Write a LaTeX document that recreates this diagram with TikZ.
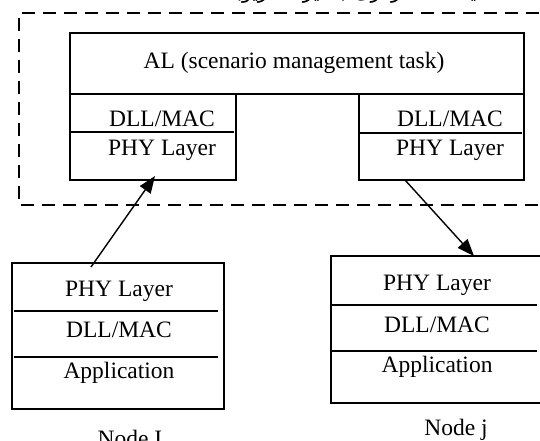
\documentclass[tikz,border=0pt]{standalone}
\usepackage{fontspec}
\setmainfont{Liberation Serif}
\newfontfamily\arabicfont[Script=Arabic]{DejaVu Sans}
\TeXXeTstate=1
\usetikzlibrary{arrows.meta}

\tikzset{
  layer/.style={draw, line width=1.4pt},
  lbl/.style={font=\fontsize{23.5}{28}\selectfont, inner sep=0pt, anchor=base},
  link/.style={line width=1.4pt, -{Triangle[length=17pt,width=13pt]}},
}

\begin{document}
\begin{tikzpicture}[x=1pt,y=-1pt]
  \useasboundingbox (0,0) rectangle (540,441);

  % frame of the scenario side
  \draw[line width=1.4pt, dash pattern=on 13pt off 8pt]
    (560,13) -- (19,13) -- (19,205) -- (560,205);
  \node[lbl, anchor=base east, font=\arabicfont\fontsize{20}{24}\selectfont] (title) at (482,-1)
    {\beginR ایستگاه مرکزی (مدیر سناریو)\endR};

  % AL box with two stacks
  \draw[layer] (70,33) rectangle (524,94);
  \node[lbl] (al) at (294,69) {AL (scenario management task)};

  \draw[layer] (70,94) rectangle (236,180);
  \draw[layer] (70,132) -- (234,132);
  \node[lbl] (macA) at (162,126) {DLL/MAC};
  \node[lbl] (phyA) at (162,155) {PHY Layer};

  \draw[layer] (359,94) rectangle (524,180);
  \draw[layer] (359,133) -- (522,133);
  \node[lbl] (macB) at (450,126) {DLL/MAC};
  \node[lbl] (phyB) at (450,155) {PHY Layer};

  % node I
  \draw[layer] (12,263) rectangle (224,409);
  \foreach \y in {311, 357}
    \draw[layer] (14,\y) -- (218,\y);
  \foreach \t/\y/\nm in {PHY Layer/296/phyI, {DLL/MAC}/337/macI, Application/378/appI}
    \node[lbl] (\nm) at (119,\y) {\t};
  \node[lbl] (nodeI) at (130,446) {Node I};

  % node j
  \draw[layer] (331,256) rectangle (544,403);
  \foreach \y in {305, 351}
    \draw[layer] (332,\y) -- (537,\y);
  \foreach \t/\y/\nm in {PHY Layer/290/phyJ, {DLL/MAC}/332/macJ, Application/372/appJ}
    \node[lbl] (\nm) at (437,\y) {\t};
  \node[lbl] (nodeJ) at (456,435) {Node j};

  % links
  \coordinate (outI) at (91,267);
  \coordinate (inA) at (155,176);
  \coordinate (outB) at (405,180);
  \coordinate (inJ) at (474,256);
  \draw[link] (outI) -- (inA);
  \draw[link] (outB) -- (inJ);
\end{tikzpicture}
\end{document}
